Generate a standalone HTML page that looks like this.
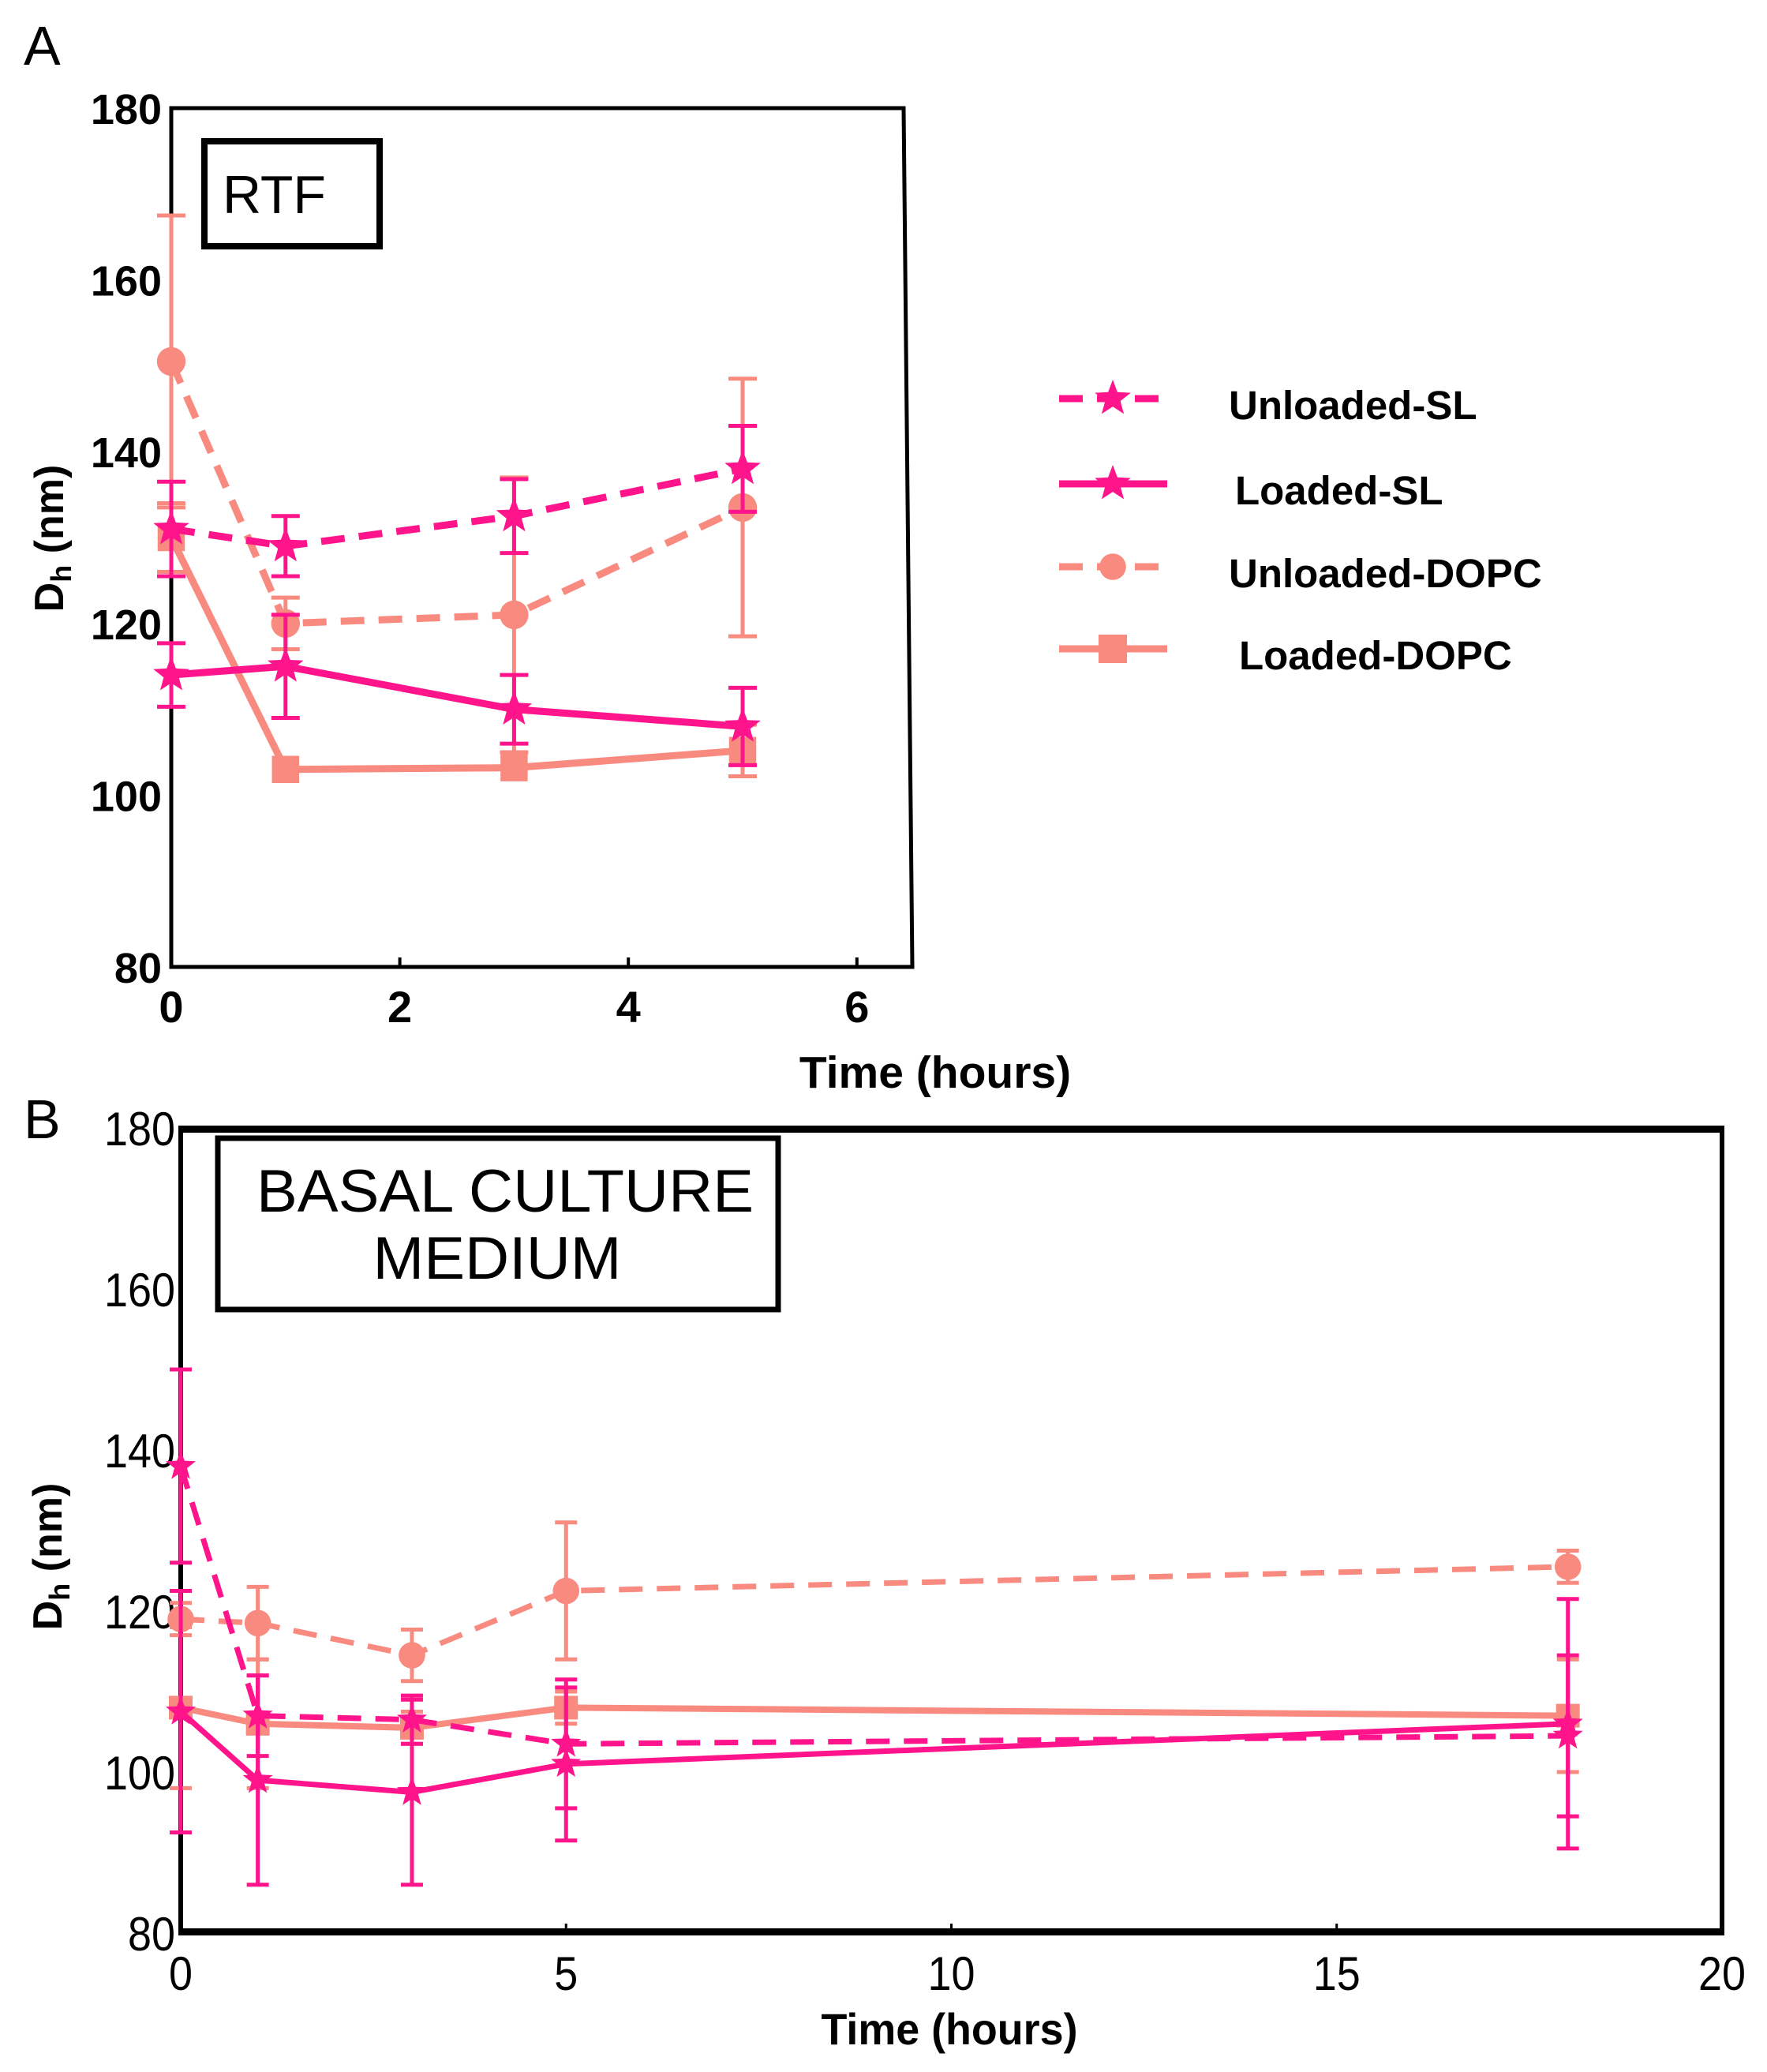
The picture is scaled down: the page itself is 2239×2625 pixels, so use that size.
<!DOCTYPE html>
<html><head><meta charset="utf-8"><style>
html,body{margin:0;padding:0;background:#fff}
svg{display:block}
text{font-family:"Liberation Sans",sans-serif}
</style></head><body>
<svg id="chart" width="2239" height="2625" viewBox="0 0 2239 2625" xmlns="http://www.w3.org/2000/svg">
<text x="30" y="82" font-size="70">A</text>
<text x="30" y="1442" font-size="70">B</text>
<g id="pa"></g>
<g id="pb"></g>
<g id="legend"></g>
</svg>
<script>
const seriesNames=["Unloaded-SL","Loaded-SL","Unloaded-DOPC","Loaded-DOPC"];
const timesA=[0,1,3,5];
const aUnloadedSL=[131,129,132.5,138];
const aUnloadedSLErr=[5.5,3.5,4.3,5];
const aLoadedSL=[114,115,110,108];
const aLoadedSLErr=[3.7,6,4,4.5];
const aUnloadedDOPC=[150.5,120,121,133.5];
const aUnloadedDOPCErr=[17,3,16,15];
const aLoadedDOPC=[130,103,103.2,105.2];
const aLoadedDOPCErr=[4,0,0,3];
const timesB=[0,1,3,5,18];
const bUnloadedSL=[138,107,106.5,103.5,104.5];
const bUnloadedSLErr=[12,5,3,8,10];
const bLoadedSL=[107.5,99,97.5,101,106];
const bLoadedSLErr=[15,13,11.5,9.5,15.5];
const bUnloadedDOPC=[119,118.5,114.5,122.5,125.5];
const bUnloadedDOPCErr=[2,4.5,3.2,8.5,2];
const bLoadedDOPC=[108,106,105.5,108,107];
const bLoadedDOPCErr=[10,8,2,2,7];
const ticksAX=[0,2,4,6], ticksY=[80,100,120,140,160,180], ticksBX=[0,5,10,15,20];

const NS="http://www.w3.org/2000/svg";
const PINK="#ff148c", SALMON="#f98a80";
function mk(parent,tag,attrs){const e=document.createElementNS(NS,tag);for(const k in attrs)e.setAttribute(k,attrs[k]);parent.appendChild(e);return e;}
function starPts(cx,cy,r){let p=[];for(let i=0;i<10;i++){const a=-Math.PI/2+i*Math.PI/5;const rr=i%2?r*0.42:r;p.push((cx+rr*Math.cos(a)).toFixed(1)+","+(cy+rr*Math.sin(a)).toFixed(1));}return p.join(" ");}
function marker(g,type,x,y,c,s){
  let m;
  if(type==="star")m=mk(g,"polygon",{points:starPts(x,y,s),fill:c});
  else if(type==="circle")m=mk(g,"circle",{cx:x,cy:y,r:s*0.7,fill:c});
  else m=mk(g,"rect",{x:x-s*0.75,y:y-s*0.75,width:s*1.5,height:s*1.5,fill:c});
  
  
}
function drawSeries(g,times,vals,errs,sx,sy,c,dash,type,lw,capw,ms,name){
  const sg=mk(g,"g",{});
  
  
  for(let i=0;i<times.length;i++){if(errs[i]>0){const x=sx(times[i]);const y1=sy(vals[i]-errs[i]),y2=sy(vals[i]+errs[i]);
    const eb=mk(sg,"path",{d:`M${x},${y1}V${y2}M${x-capw},${y1}h${2*capw}M${x-capw},${y2}h${2*capw}`,stroke:c,"stroke-width":5,fill:"none"});
    
    }}
  const d=times.map((t,i)=>(i?"L":"M")+sx(t)+","+sy(vals[i])).join("");
  const ln=mk(sg,"path",{d:d,stroke:c,"stroke-width":lw,fill:"none","stroke-dasharray":dash?"30,18":"none"});
  
  
  times.forEach((t,i)=>marker(sg,type,sx(t),sy(vals[i]),c,ms));
}
// Panel A
(function(){
  const g=document.getElementById("pa");
  const x0=217,xu=144.8,yb=1225,yu=10.88;
  const sx=t=>x0+t*xu, sy=v=>yb-(v-80)*yu;
  const fr=mk(g,"path",{d:"M217,137L1145,137L1156,1225L217,1225Z",stroke:"#000","stroke-width":5,fill:"none"});
  
  ticksAX.forEach(t=>{mk(g,"line",{x1:sx(t),x2:sx(t),y1:yb,y2:yb-12,stroke:"#000","stroke-width":4});
    const tx=mk(g,"text",{x:sx(t),y:yb+70,"font-size":56,"font-weight":"bold","text-anchor":"middle"});tx.textContent=t;
    });
  ticksY.forEach(v=>{const tx=mk(g,"text",{x:205,y:sy(v)+20,"font-size":54,"font-weight":"bold","text-anchor":"end"});tx.textContent=v;
    });
  const xl=mk(g,"text",{x:1185,y:1378,"font-size":57,"font-weight":"bold","text-anchor":"middle"});xl.textContent="Time (hours)";
  
  const yl=mk(g,"text",{transform:"translate(80,682) rotate(-90)","font-size":52,"font-weight":"bold","text-anchor":"middle"});
  yl.innerHTML='D<tspan font-size="36" dy="10">h</tspan><tspan dy="-10"> (nm)</tspan>';
  
  const bx=mk(g,"rect",{x:259,y:179,width:222,height:133,stroke:"#000","stroke-width":8,fill:"#fff"});
  
  const bt=mk(g,"text",{x:282,y:270,"font-size":68});bt.textContent="RTF";
  
  drawSeries(g,timesA,aLoadedDOPC,aLoadedDOPCErr,sx,sy,SALMON,false,"square",9,18,23,"series-loaded-dopc");
  drawSeries(g,timesA,aUnloadedDOPC,aUnloadedDOPCErr,sx,sy,SALMON,true,"circle",9,18,26,"series-unloaded-dopc");
  drawSeries(g,timesA,aLoadedSL,aLoadedSLErr,sx,sy,PINK,false,"star",9,18,24,"series-loaded-sl");
  drawSeries(g,timesA,aUnloadedSL,aUnloadedSLErr,sx,sy,PINK,true,"star",9,18,24,"series-unloaded-sl");
})();
// Panel B
(function(){
  const g=document.getElementById("pb");
  const x0=229,xu=97.65,yb=2449,yu=10.2;
  const sx=t=>x0+t*xu, sy=v=>yb-(v-80)*yu;
  const fr=mk(g,"rect",{x:229,y:1429,width:1953,height:1020,stroke:"#000","stroke-width":6,fill:"none"});
  
  mk(g,"line",{x1:229,x2:2182,y1:1431,y2:1431,stroke:"#000","stroke-width":8});
  mk(g,"line",{x1:229,x2:2182,y1:2447,y2:2447,stroke:"#000","stroke-width":8});
  ticksBX.forEach(t=>{mk(g,"line",{x1:sx(t),x2:sx(t),y1:yb,y2:yb-12,stroke:"#000","stroke-width":3});
    const tx=mk(g,"text",{x:sx(t),y:yb+72,"font-size":60,"text-anchor":"middle",textLength:t>=10?60:30,lengthAdjust:"spacingAndGlyphs"});
    tx.textContent=t;
    });
  ticksY.forEach(v=>{const tx=mk(g,"text",{x:222,y:sy(v)+22,"font-size":60,"text-anchor":"end",textLength:v>=100?90:60,lengthAdjust:"spacingAndGlyphs"});tx.textContent=v;
    });
  const xl=mk(g,"text",{x:1203,y:2590,"font-size":56,"font-weight":"bold","text-anchor":"middle",textLength:325,lengthAdjust:"spacingAndGlyphs"});xl.textContent="Time (hours)";
  
  const yl=mk(g,"text",{transform:"translate(78,1972) rotate(-90)","font-size":52,"font-weight":"bold","text-anchor":"middle"});
  yl.innerHTML='D<tspan font-size="36" dy="10">h</tspan><tspan dy="-10"> (nm)</tspan>';
  
  const bx=mk(g,"rect",{x:276,y:1442,width:710,height:217,stroke:"#000","stroke-width":7,fill:"#fff"});
  
  const t1=mk(g,"text",{x:640,y:1535,"font-size":76,"text-anchor":"middle",textLength:630,lengthAdjust:"spacingAndGlyphs"});t1.textContent="BASAL CULTURE";
  
  const t2=mk(g,"text",{x:630,y:1620,"font-size":76,"text-anchor":"middle",textLength:315,lengthAdjust:"spacingAndGlyphs"});t2.textContent="MEDIUM";
  
  drawSeries(g,timesB,bUnloadedDOPC,bUnloadedDOPCErr,sx,sy,SALMON,true,"circle",7,14,24,"series-unloaded-dopc");
  drawSeries(g,timesB,bLoadedDOPC,bLoadedDOPCErr,sx,sy,SALMON,false,"square",8,14,20,"series-loaded-dopc");
  drawSeries(g,timesB,bUnloadedSL,bUnloadedSLErr,sx,sy,PINK,true,"star",7,14,20,"series-unloaded-sl");
  drawSeries(g,timesB,bLoadedSL,bLoadedSLErr,sx,sy,PINK,false,"star",7,14,20,"series-loaded-sl");
})();
// Legend
(function(){
  const g=document.getElementById("legend");
  const ys=[505,613,718,822], cols=[PINK,PINK,SALMON,SALMON], dash=[true,false,true,false], types=["star","star","circle","square"], tx=[1557,1565,1557,1570];
  seriesNames.forEach((n,i)=>{
    const eg=mk(g,"g",{});
    
    
    mk(eg,"line",{x1:1342,x2:1479,y1:ys[i],y2:ys[i],stroke:cols[i],"stroke-width":9,"stroke-dasharray":dash[i]?"30,18":"none"});
    marker(eg,types[i],1410,ys[i],cols[i],24);
    const t=mk(eg,"text",{x:tx[i],y:ys[i]+26,"font-size":51,"font-weight":"bold"});t.textContent=n;
  });
})();
</script>
</body></html>
